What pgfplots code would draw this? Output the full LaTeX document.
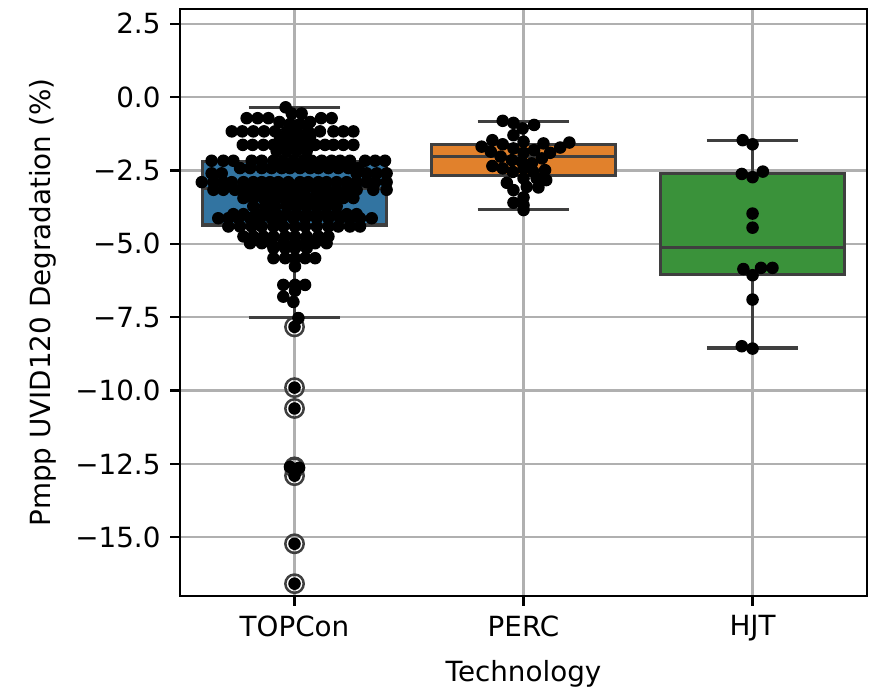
\documentclass[border=0pt]{standalone}
\usepackage{fontspec}
\setmainfont{DejaVu Sans}
\usepackage{pgfplots}
\pgfplotsset{compat=1.18}
\usepgfplotslibrary{statistics}
\definecolor{cblue}{HTML}{3274A1}
\definecolor{corange}{HTML}{E1812C}
\definecolor{cgreen}{HTML}{3A923A}
\definecolor{edgec}{HTML}{3F3F3F}
\definecolor{gridc}{HTML}{B0B0B0}
\begin{document}
\begin{tikzpicture}
\begin{axis}[
  scale only axis, width=247.3pt, height=211.3pt,
  xmin=-0.5, xmax=2.5, ymin=-17, ymax=3,
  xtick={0,1,2}, xticklabels={TOPCon,PERC,HJT},
  ytick={2.5,0,-2.5,-5,-7.5,-10,-12.5,-15},
  yticklabels={2.5,0.0,−2.5,−5.0,−7.5,−10.0,−12.5,−15.0},
  tick align=outside, tick pos=left,
  major tick length=3.5pt,
  grid=major, major grid style={gridc, line width=0.8pt},
  axis line style={line width=0.8pt},
  every tick/.style={black, line width=0.8pt},
  xlabel={Technology}, ylabel={Pmpp UVID120 Degradation (\%)},
  boxplot/draw direction=y,
  boxplot/box extend=0.8,
  boxplot/whisker extend=0.4,
]
% boxes
\addplot[draw=edgec, fill=cblue, line width=1.1pt,
  boxplot prepared={draw position=0, lower whisker=-7.52, lower quartile=-4.36,
  median=-3.10, upper quartile=-2.20, upper whisker=-0.35}] coordinates {};
\addplot[draw=edgec, fill=corange, line width=1.1pt,
  boxplot prepared={draw position=1, lower whisker=-3.83, lower quartile=-2.66,
  median=-2.03, upper quartile=-1.61, upper whisker=-0.82}] coordinates {};
\addplot[draw=edgec, fill=cgreen, line width=1.1pt,
  boxplot prepared={draw position=2, lower whisker=-8.55, lower quartile=-6.05,
  median=-5.12, upper quartile=-2.62, upper whisker=-1.49}] coordinates {};
% fliers (TOPCon)
\addplot[only marks, mark=o, mark size=3.3pt, mark options={draw=edgec, line width=0.9pt}]
coordinates {(0,-7.83) (0,-9.90) (0,-10.61) (0,-12.60) (0,-12.63) (0,-12.90) (0,-15.22) (0,-16.58)};
% TOPCon swarm
\addplot[only marks, mark=*, mark size=2.05pt, black] coordinates {
(-0.039,-0.35)
(-0.012,-0.56) (0.031,-0.56)
(-0.209,-0.72) (-0.161,-0.72) (-0.114,-0.72) (0.116,-0.72) (0.162,-0.72)
(-0.066,-0.85) (0.068,-0.85)
(-0.020,-0.92) (0.024,-0.92)
(-0.274,-1.17) (-0.228,-1.17) (-0.180,-1.17) (-0.133,-1.17) (-0.085,-1.17) (-0.034,-1.17) (0.009,-1.17) (0.060,-1.17) (0.111,-1.17) (0.170,-1.17) (0.213,-1.17) (0.257,-1.17)
(-0.063,-1.36) (-0.020,-1.36) (0.024,-1.36) (0.068,-1.36)
(-0.226,-1.63) (-0.183,-1.63) (-0.136,-1.63) (-0.092,-1.63) (-0.041,-1.63) (0.002,-1.63) (0.046,-1.63) (0.090,-1.63) (0.133,-1.63) (0.170,-1.63) (0.213,-1.63) (0.257,-1.63)
(-0.078,-1.84) (-0.034,-1.84) (0.009,-1.84) (0.053,-1.84)
(-0.362,-2.17) (-0.311,-2.17) (-0.267,-2.17) (-0.187,-2.17) (-0.143,-2.17) (-0.092,-2.17) (-0.049,-2.17) (-0.005,-2.17) (0.039,-2.17) (0.075,-2.17) (0.119,-2.17) (0.162,-2.17) (0.199,-2.17) (0.242,-2.17) (0.308,-2.17) (0.352,-2.17) (0.395,-2.17)
(-0.238,-2.42) (-0.194,-2.42) (-0.143,-2.42) (-0.100,-2.42) (-0.056,-2.42) (-0.020,-2.42) (0.024,-2.42) (0.068,-2.42) (0.104,-2.42) (0.148,-2.42) (0.191,-2.42) (0.235,-2.42) (0.279,-2.42)
(-0.362,-2.60) (-0.318,-2.60) (0.271,-2.60) (0.315,-2.60) (0.359,-2.60) (0.402,-2.60)
(-0.405,-2.90) (-0.354,-2.90) (-0.311,-2.90) (-0.274,-2.90) (-0.223,-2.90) (-0.180,-2.90) (-0.143,-2.90) (-0.107,-2.90) (-0.071,-2.90) (-0.027,-2.90) (0.024,-2.90) (0.060,-2.90) (0.104,-2.90) (0.140,-2.90) (0.184,-2.90) (0.228,-2.90) (0.271,-2.90) (0.315,-2.90) (0.352,-2.90) (0.402,-2.90)
(-0.354,-3.16) (-0.311,-3.16) (-0.260,-3.16) (-0.216,-3.16) (-0.173,-3.16) (-0.129,-3.16) (-0.085,-3.16) (-0.041,-3.16) (0.002,-3.16) (0.046,-3.16) (0.097,-3.16) (0.140,-3.16) (0.184,-3.16) (0.228,-3.16) (0.271,-3.16) (0.344,-3.16) (0.402,-3.16)
(-0.223,-3.44) (-0.180,-3.44) (-0.136,-3.44) (-0.092,-3.44) (-0.049,-3.44) (-0.005,-3.44) (0.039,-3.44) (0.082,-3.44) (0.126,-3.44) (0.170,-3.44) (0.213,-3.44) (0.257,-3.44)
(-0.180,-3.72) (-0.129,-3.72) (-0.085,-3.72) (-0.034,-3.72) (0.009,-3.72) (0.053,-3.72) (0.097,-3.72) (0.140,-3.72) (0.184,-3.72)
(-0.267,-3.99) (-0.223,-3.99) (-0.165,-3.99) (-0.122,-3.99) (-0.078,-3.99) (-0.034,-3.99) (0.009,-3.99) (0.053,-3.99) (0.097,-3.99) (0.140,-3.99) (0.184,-3.99) (0.228,-3.99) (0.271,-3.99)
(-0.333,-4.13) (-0.289,-4.13) (-0.245,-4.13) (-0.194,-4.13) (-0.151,-4.13) (-0.100,-4.13) (-0.056,-4.13) (-0.005,-4.13) (0.046,-4.13) (0.097,-4.13) (0.148,-4.13) (0.199,-4.13) (0.242,-4.13) (0.286,-4.13) (0.337,-4.13)
(-0.289,-4.41) (-0.238,-4.41) (-0.187,-4.41) (-0.143,-4.41) (-0.092,-4.41) (-0.049,-4.41) (0.002,-4.41) (0.046,-4.41) (0.097,-4.41) (0.148,-4.41) (0.191,-4.41) (0.242,-4.41) (0.286,-4.41)
(-0.223,-4.75) (-0.180,-4.75) (-0.136,-4.75) (-0.092,-4.75) (-0.041,-4.75) (0.002,-4.75) (0.053,-4.75) (0.104,-4.75) (0.148,-4.75)
(-0.194,-4.98) (-0.143,-4.98) (-0.100,-4.98) (-0.049,-4.98) (0.002,-4.98) (0.046,-4.98) (0.090,-4.98) (0.140,-4.98)
(-0.092,-5.15) (-0.041,-5.15) (0.002,-5.15) (0.053,-5.15)
(-0.092,-5.49) (-0.041,-5.49) (0.002,-5.49) (0.046,-5.49) (0.090,-5.49)
(0.002,-5.77)
(-0.049,-6.40) (0.002,-6.40) (0.046,-6.40)
(0.002,-6.60)
(-0.049,-6.80)
(-0.005,-6.98)
(0.017,-7.53)
(0,-7.83) (0,-9.90) (0,-10.61) (-0.02,-12.60) (0.02,-12.63) (0,-12.90) (0,-15.22) (0,-16.58)
};
% PERC swarm
\addplot[only marks, mark=*, mark size=2.05pt, black] coordinates {
(0.909,-0.81) (0.956,-0.88) (1.046,-0.95) (0.996,-1.07)
(0.956,-1.30) (0.864,-1.47) (1.000,-1.52) (1.200,-1.55) (1.087,-1.58) (0.909,-1.61)
(0.817,-1.69) (1.160,-1.72) (0.956,-1.75) (1.046,-1.81) (0.857,-1.86) (1.000,-1.90) (1.116,-1.90)
(0.900,-2.03) (1.080,-2.09) (0.949,-2.15) (0.992,-2.20) (1.036,-2.26)
(0.864,-2.35) (0.909,-2.43) (1.000,-2.43) (1.094,-2.49) (0.953,-2.55) (1.043,-2.55)
(1.000,-2.77) (1.057,-2.77) (1.099,-2.83) (0.927,-2.92)
(1.014,-3.06) (1.065,-3.08) (0.956,-3.17) (1.000,-3.42) (0.956,-3.60) (1.000,-3.68) (1.000,-3.85)
};
% HJT swarm
\addplot[only marks, mark=*, mark size=2.05pt, black] coordinates {
(1.957,-1.47) (2.000,-1.61) (2.045,-2.54) (1.953,-2.62) (2.000,-2.73)
(2.000,-3.97) (2.000,-4.45) (2.037,-5.82) (2.087,-5.82) (1.960,-5.86) (2.000,-6.07)
(2.000,-6.90) (1.953,-8.49) (2.000,-8.57)
};
\end{axis}
\pgfresetboundingbox
\path[use as bounding box] ([xshift=-64.8pt,yshift=-33.8pt]current axis.south west) rectangle ([xshift=2.5pt,yshift=3.24pt]current axis.north east);
\end{tikzpicture}
\end{document}
